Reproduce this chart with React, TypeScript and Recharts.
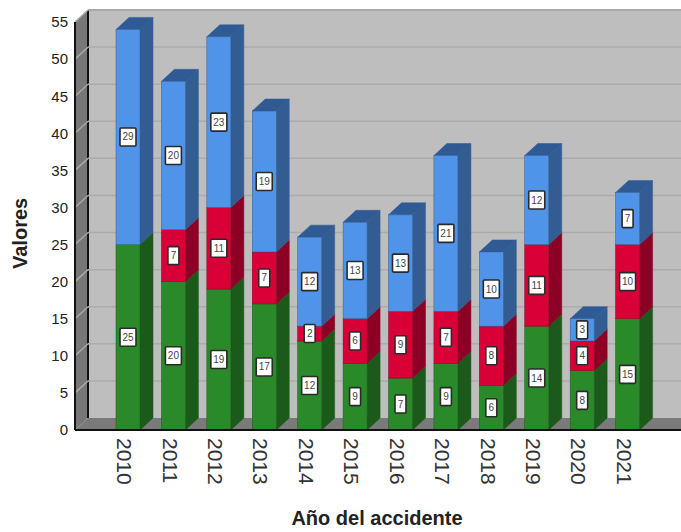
import { BarChart, Bar, XAxis, YAxis, CartesianGrid, LabelList } from 'recharts';

const years = ['2010', '2011', '2012', '2013', '2014', '2015', '2016', '2017', '2018', '2019', '2020', '2021'];
const green = [25, 20, 19, 17, 12, 9, 7, 9, 6, 14, 8, 15];
const red = [0, 7, 11, 7, 2, 6, 9, 7, 8, 11, 4, 10];
const blue = [29, 20, 23, 19, 12, 13, 13, 21, 10, 12, 3, 7];
const yTicks = [0, 5, 10, 15, 20, 25, 30, 35, 40, 45, 50, 55];

const data = years.map((year, i) => ({ year, green: green[i], red: red[i], blue: blue[i] }));

const FONT = '"Liberation Sans", Arial, sans-serif';
// 3D offset of the fake perspective
const DX = 13;
const DY = 12;

// Flat bar rect plus side and top faces
function Bar3D(props: any) {
  const { x, y, width: w, height: h, front, side, top, isTop } = props;
  if (!h || h <= 0) return null;
  return (
    <g>
      <polygon
        points={`${x + w},${y + h} ${x + w + DX},${y + h - DY} ${x + w + DX},${y - DY} ${x + w},${y}`}
        fill={side} stroke={side} strokeWidth={0.5} />
      {isTop && (
        <polygon
          points={`${x},${y} ${x + w},${y} ${x + w + DX},${y - DY} ${x + DX},${y - DY}`}
          fill={top} stroke={top} strokeWidth={0.5} />
      )}
      <rect x={x} y={y} width={w} height={h} fill={front} stroke={side} strokeWidth={0.5} />
    </g>
  );
}

// White value box in the middle of a segment
function ValueBox(props: any) {
  const { x, y, width: w, height: h, value } = props;
  if (!value) return null;
  const bw = String(value).length > 1 ? 16 : 11;
  const cx = x + w / 2;
  const cy = y + h / 2;
  return (
    <g>
      <rect x={cx - bw / 2} y={cy - 9} width={bw} height={18} fill="#fff" stroke="#2A2A2A" strokeWidth={1.6} rx={1} />
      <text x={cx} y={cy + 3.5} textAnchor="middle" fontFamily={FONT} fontSize={10} fill="#444">{value}</text>
    </g>
  );
}

// Walls and floor go in with the first grid line, the rest is just lines
function GridLine(props: any) {
  const { x, y, width, height, y1, index } = props;
  return (
    <g key={`grid-${index}`}>
      {index === 0 && (
        <g>
          <rect x={x + DX} y={y - DY} width={width} height={height} fill="#BEBEBE" />
          <line x1={x + DX} y1={y - DY} x2={x + width} y2={y - DY} stroke="#9A9A9A" strokeWidth={2} />
          <polygon points={`${x},${y} ${x + DX},${y - DY} ${x + DX},${y + height - DY} ${x},${y + height}`} fill="#777777" />
          <polygon points={`${x},${y + height} ${x + DX},${y + height - DY} ${x + width},${y + height - DY} ${x + width},${y + height}`} fill="#7A7A7A" />
          <line x1={x + DX} y1={y - DY} x2={x + DX} y2={y + height - DY} stroke="#111" strokeWidth={2} />
        </g>
      )}
      {y1 < y + height - 1 && (
        <g>
          <line x1={x + DX} y1={y1 - DY} x2={x + width} y2={y1 - DY} stroke="#ABABAB" strokeWidth={1.5} />
          <line x1={x} y1={y1} x2={x + DX} y2={y1 - DY} stroke="#A8A8A8" strokeWidth={1.5} />
        </g>
      )}
    </g>
  );
}

function YearTick({ x, y, payload }: any) {
  return (
    <text x={x - 3} y={y} transform={`rotate(90 ${x - 3} ${y})`} textAnchor="start" dominantBaseline="central"
      fontFamily={FONT} fontSize={21} fill="#333">
      {payload.value}
    </text>
  );
}

export default function App() {
  return (
    <div style={{ position: 'absolute', left: 0, top: 0, width: 681, height: 532, background: '#fff' }}>
      <BarChart width={681} height={532} data={data} margin={{ top: 22, right: 0, bottom: 0, left: 0 }} barSize={24}>
        <CartesianGrid vertical={false} horizontal={(p: any) => <GridLine {...p} />} />
        <XAxis dataKey="year" height={102} interval={0} padding={{ left: 30, right: 31 }}
          axisLine={{ stroke: '#111', strokeWidth: 2 }} tickLine={false} tick={<YearTick />}
          label={{ value: 'Año del accidente', position: 'insideBottom', offset: 7, fontFamily: FONT, fontSize: 20, fontWeight: 700, fill: '#222', dx: -1 }} />
        <YAxis width={75} domain={[0, 55]} ticks={yTicks} interval={0}
          axisLine={{ stroke: '#111', strokeWidth: 2 }} tickLine={false} tickMargin={1}
          tick={{ fontFamily: FONT, fontSize: 15, fill: '#222' }}
          label={{ value: 'Valores', angle: -90, position: 'insideLeft', offset: 20, dy: 43, fontFamily: FONT, fontSize: 20, fontWeight: 700, fill: '#222' }} />
        <Bar dataKey="green" stackId="a" isAnimationActive={false}
          shape={(p: any) => <Bar3D {...p} front="#2A8A2A" side="#1B5A1B" />}>
          <LabelList dataKey="green" content={<ValueBox />} />
        </Bar>
        <Bar dataKey="red" stackId="a" isAnimationActive={false}
          shape={(p: any) => <Bar3D {...p} front="#D90038" side="#8B0024" />}>
          <LabelList dataKey="red" content={<ValueBox />} />
        </Bar>
        <Bar dataKey="blue" stackId="a" isAnimationActive={false}
          shape={(p: any) => <Bar3D {...p} front="#4F94E8" side="#335C92" top="#2F5A94" isTop />}>
          <LabelList dataKey="blue" content={<ValueBox />} />
        </Bar>
      </BarChart>
    </div>
  );
}
